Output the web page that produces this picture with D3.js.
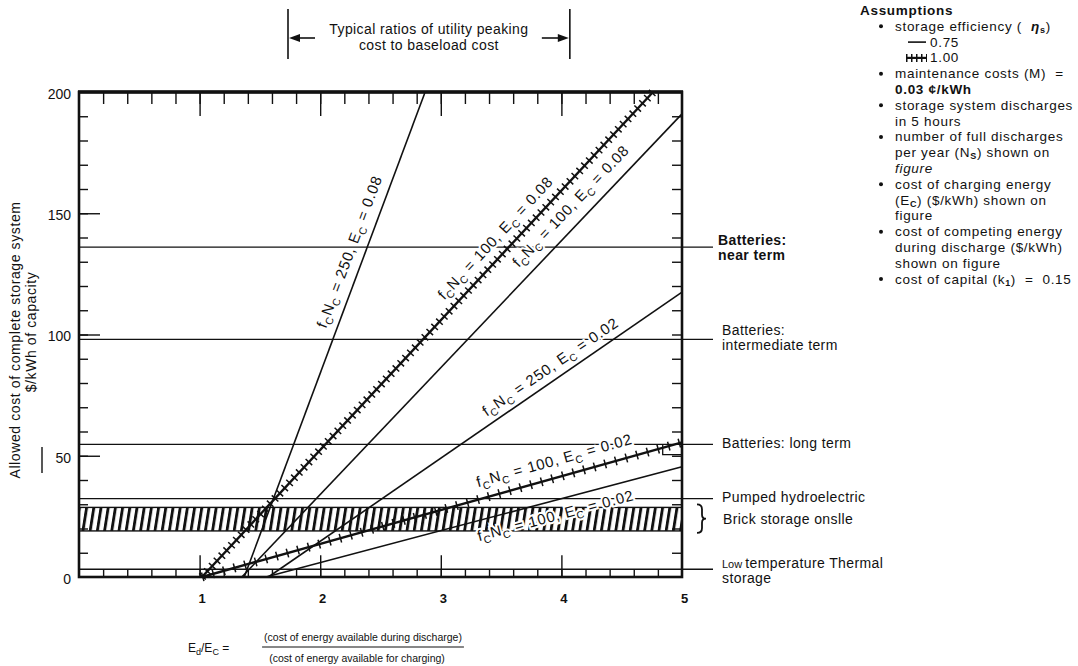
<!DOCTYPE html>
<html><head><meta charset="utf-8">
<script src="https://cdn.jsdelivr.net/npm/d3@7/dist/d3.min.js"></script>
<style>
html,body{margin:0;padding:0;background:#fff;}
svg{display:block;}
text{font-family:"Liberation Sans",Arial,Helvetica,sans-serif;fill:#111;white-space:pre;}
</style></head><body>
<svg id="chart" width="1078" height="666"></svg>
<script>
// ---------------- data ----------------
const xTickValues = [1, 2, 3, 4, 5];
const yTickValues = [0, 50, 100, 150, 200];

// storage-system value lines (allowed cost, $/kWh, vs Ed/Ec)
const seriesNc     = [250, 100, 100, 250, 100, 100];
const seriesEc     = [0.08, 0.08, 0.08, 0.02, 0.02, 0.02];
const seriesEff    = [0.75, 1.00, 0.75, 0.75, 1.00, 0.75];
const seriesStartX = [1.37, 1.02, 1.35, 1.57, 1.02, 1.55];
const seriesEndX   = [2.87, 4.76, 5.0, 5.0, 5.0, 5.0];
const seriesEndY   = [200, 200, 191, 117.5, 55.5, 45.5];

// technology cost levels ($/kWh)
const levelNames  = ["Batteries: near term", "Batteries: intermediate term", "Batteries: long term", "Pumped hydroelectric", "Low temperature Thermal storage"];
const levelValues = [136, 98, 54.7, 32.3, 3.2];
const brickBand   = [19, 28.7];      // Brick storage onsite range
const peakingRange = [1.733, 4.07];  // typical peaking/baseload ratios

// ---------------- layout ----------------
const svg = d3.select("#chart");
const x = d3.scaleLinear().domain([0, 5]).range([79, 682]);
const y = d3.scaleLinear().domain([0, 200]).range([577, 92]);
const X0 = x(0), X5 = x(5), Y0 = y(0), Y200 = y(200);
const INK = "#111";

const defs = svg.append("defs");
const pat = defs.append("pattern").attr("id", "hatch").attr("patternUnits", "userSpaceOnUse")
  .attr("width", 7.2).attr("height", 80).attr("patternTransform", "skewX(-9)");
pat.append("rect").attr("x", 0).attr("y", 0).attr("width", 2.9).attr("height", 80).attr("fill", INK);

// brick storage band
svg.append("rect")
  .attr("x", X0).attr("y", y(brickBand[1]))
  .attr("width", X5 - X0).attr("height", y(brickBand[0]) - y(brickBand[1]))
  .attr("fill", "url(#hatch)").attr("stroke", INK).attr("stroke-width", 1.4);

// level lines
svg.append("g").selectAll("line").data(levelValues).join("line")
  .attr("x1", X0).attr("x2", X5 + 31)
  .attr("y1", d => y(d)).attr("y2", d => y(d))
  .attr("stroke", INK).attr("stroke-width", 1.3);

// small box near long-term battery level
svg.append("path")
  .attr("d", `M${x(4.84)},${y(levelValues[2])}V${y(50.5)}H${X5}`)
  .attr("fill", "none").attr("stroke", INK).attr("stroke-width", 1.3);

function cleanAxis(g, w) {
  g.select(".domain").remove();
  g.selectAll(".tick line").attr("stroke", INK).attr("stroke-width", w || 1.4);
}

// brick strip on bottom
const fifths = d3.range(1, 25).map(k => k * 0.2);
svg.append("g").attr("transform", `translate(0,${Y0})`)
  .call(d3.axisTop(x).tickValues(fifths).tickSize(Y0 - y(levelValues[4])).tickFormat(""))
  .call(g => cleanAxis(g, 1.4));
svg.append("g").attr("transform", `translate(0,${Y0})`)
  .call(d3.axisTop(x).tickValues([1, 2, 3, 4]).tickSize(Y0 - y(9)).tickFormat(""))
  .call(g => cleanAxis(g, 1.4));

// top ticks
svg.append("g").attr("transform", `translate(0,${Y200})`)
  .call(d3.axisBottom(x).tickValues(fifths).tickSize(12).tickFormat(""))
  .call(g => cleanAxis(g, 1.4));
svg.append("g").attr("transform", `translate(0,${Y200})`)
  .call(d3.axisBottom(x).tickValues([1, 2, 3, 4]).tickSize(24).tickFormat(""))
  .call(g => cleanAxis(g, 1.4));

// left inner ticks
const tens = d3.range(10, 200, 10);
svg.append("g").attr("transform", `translate(${X0},0)`)
  .call(d3.axisRight(y).tickValues(tens).tickSize(9).tickFormat(""))
  .call(g => cleanAxis(g, 1.4));
svg.append("g").attr("transform", `translate(${X0},0)`)
  .call(d3.axisRight(y).tickValues([50, 100, 150]).tickSize(21).tickFormat(""))
  .call(g => cleanAxis(g, 1.4));
// right inner ticks
svg.append("g").attr("transform", `translate(${X5},0)`)
  .call(d3.axisLeft(y).tickValues(tens).tickSize(10).tickFormat(""))
  .call(g => cleanAxis(g, 1.4));

// y labels
svg.append("g").attr("transform", `translate(${X0 - 1},0)`)
  .call(d3.axisLeft(y).tickValues(yTickValues).tickSize(0).tickPadding(7).tickFormat(d3.format("d")))
  .call(g => { g.select(".domain").remove();
    g.selectAll("text").attr("font-size", 14).attr("fill", INK).attr("font-family", "Liberation Sans, Arial, sans-serif").attr("dy", "0.45em"); });
// x labels
svg.append("g").attr("transform", `translate(2,${Y0})`)
  .call(d3.axisBottom(x).tickValues(xTickValues).tickSize(0).tickPadding(17).tickFormat(d3.format("d")))
  .call(g => { g.select(".domain").remove();
    g.selectAll("text").attr("font-size", 13).attr("font-weight", "bold").attr("fill", INK).attr("font-family", "Liberation Sans, Arial, sans-serif"); });

// ---------------- value lines ----------------
const series = seriesNc.map((nc, i) => ({
  nc, ec: seriesEc[i], eff: seriesEff[i],
  pts: [[seriesStartX[i], 0], [seriesEndX[i], seriesEndY[i]]]
}));
const lineGen = d3.line().x(d => x(d[0])).y(d => y(d[1]));
const gl = svg.append("g");
series.forEach(s => {
  gl.append("path").attr("d", lineGen(s.pts)).attr("fill", "none")
    .attr("stroke", INK).attr("stroke-width", s.eff === 1 ? 2.4 : 1.6);
  if (s.eff === 1) {
    gl.append("path").attr("d", lineGen(s.pts)).attr("fill", "none")
      .attr("stroke", INK).attr("stroke-width", 9)
      .attr("stroke-dasharray", s.ec > 0.05 ? "1.5 5.6" : "1.5 9.5");
  }
});

// line labels (position along line = Ed/Ec value, offset perpendicular in px)
const labelAt  = [2.36, 3.55, 4.18, 3.97, 3.98, 3.92];
const labelOff = [-10, -11, -12, -8, -12, 20];
series.forEach((s, i) => {
  const [p0, p1] = s.pts;
  const x0 = x(p0[0]), y0 = y(p0[1]), x1 = x(p1[0]), y1 = y(p1[1]);
  const ang = Math.atan2(y1 - y0, x1 - x0) * 180 / Math.PI;
  const px = x(labelAt[i]);
  const py = y0 + (px - x0) * (y1 - y0) / (x1 - x0);
  const t = svg.append("text")
    .attr("transform", `translate(${px},${py}) rotate(${ang})`)
    .attr("text-anchor", "middle").attr("y", labelOff[i])
    .attr("font-size", 15).attr("letter-spacing", 0.8)
    .attr("stroke", "#fff").attr("stroke-width", 4).attr("paint-order", "stroke");
  t.append("tspan").text("f");
  t.append("tspan").attr("dy", 4).attr("font-size", 10.5).text("C");
  t.append("tspan").attr("dy", -4).text("N");
  t.append("tspan").attr("dy", 4).attr("font-size", 10.5).text("C");
  t.append("tspan").attr("dy", -4).text(` = ${s.nc}, E`);
  t.append("tspan").attr("dy", 4).attr("font-size", 10.5).text("C");
  t.append("tspan").attr("dy", -4).text(` = ${s.ec.toFixed(2)}`);
});

// frame
svg.append("rect").attr("x", X0).attr("y", Y200).attr("width", X5 - X0).attr("height", Y0 - Y200)
  .attr("fill", "none").attr("stroke", INK).attr("stroke-width", 2.6);
svg.append("line").attr("x1", X0 - 1).attr("x2", X5 + 1).attr("y1", Y200).attr("y2", Y200)
  .attr("stroke", INK).attr("stroke-width", 3.6);

// ---------------- right-hand level labels ----------------
const levelLabelLines = [["Batteries:", "near term"], ["Batteries:", "intermediate term"], ["Batteries: long term"], ["Pumped hydroelectric"], ["Low temperature Thermal", "storage"]];
const levelLabelDy = [[-2, 13], [-4, 11], [4], [3], [-1, 14]];
levelLabelLines.forEach((lines, i) => {
  lines.forEach((ln, j) => {
    const t = svg.append("text").attr("x", i === 0 ? 718 : 722).attr("y", y(levelValues[i]) + levelLabelDy[i][j])
      .attr("font-size", 14).attr("letter-spacing", 0.4)
      .attr("font-weight", i === 0 ? "bold" : "normal");
    if (i === 4 && j === 0) {
      t.append("tspan").attr("font-size", 11).attr("letter-spacing", 0).text("Low ");
      t.append("tspan").text("temperature Thermal");
    } else t.text(ln);
  });
});
// brick label + brace
const bTop = y(brickBand[1]) - 3, bBot = y(brickBand[0]) + 2, bMid = (bTop + bBot) / 2;
svg.append("path")
  .attr("d", `M697,${bTop} Q702,${bTop} 702,${bTop + 5} L702,${bMid - 4} Q702,${bMid} 706,${bMid} Q702,${bMid} 702,${bMid + 4} L702,${bBot - 5} Q702,${bBot} 697,${bBot}`)
  .attr("fill", "none").attr("stroke", INK).attr("stroke-width", 1.8);
svg.append("text").attr("x", 723).attr("y", bMid + 5).attr("font-size", 14).attr("letter-spacing", 0.4).text("Brick storage onslle");

// ---------------- top annotation ----------------
const ga = svg.append("g");
peakingRange.forEach(v => {
  ga.append("line").attr("x1", x(v)).attr("x2", x(v)).attr("y1", 9).attr("y2", 59).attr("stroke", INK).attr("stroke-width", 1.6);
});
const aY = 38, xa = x(peakingRange[0]), xb = x(peakingRange[1]);
ga.append("line").attr("x1", xa + 6).attr("x2", xa + 27).attr("y1", aY).attr("y2", aY).attr("stroke", INK).attr("stroke-width", 1.6);
ga.append("path").attr("d", `M${xa + 1},${aY} L${xa + 12},${aY - 4} L${xa + 12},${aY + 4} Z`).attr("fill", INK);
ga.append("line").attr("x1", xb - 28).attr("x2", xb - 6).attr("y1", aY).attr("y2", aY).attr("stroke", INK).attr("stroke-width", 1.6);
ga.append("path").attr("d", `M${xb - 1},${aY} L${xb - 12},${aY - 4} L${xb - 12},${aY + 4} Z`).attr("fill", INK);
const midA = (xa + xb) / 2;
ga.append("text").attr("x", midA).attr("y", 34).attr("text-anchor", "middle").attr("font-size", 14).attr("letter-spacing", 0.4).text("Typical ratios of utility peaking");
ga.append("text").attr("x", midA).attr("y", 50).attr("text-anchor", "middle").attr("font-size", 14).attr("letter-spacing", 0.4).text("cost to baseload cost");

// ---------------- axis titles ----------------
svg.append("text").attr("transform", "translate(20,340) rotate(-90)").attr("text-anchor", "middle")
  .attr("font-size", 14).attr("letter-spacing", 0.6).text("Allowed cost of complete storage system");
svg.append("text").attr("transform", "translate(36,332) rotate(-90)").attr("text-anchor", "middle")
  .attr("font-size", 14).attr("letter-spacing", 0.6).text("$/kWh of capacity");
svg.append("line").attr("x1", 42).attr("x2", 42).attr("y1", 447).attr("y2", 473).attr("stroke", INK).attr("stroke-width", 1.4);

const xt = svg.append("text").attr("x", 188).attr("y", 652).attr("font-size", 12);
xt.append("tspan").text("E");
xt.append("tspan").attr("dy", 3).attr("font-size", 9).text("d");
xt.append("tspan").attr("dy", -3).text("/E");
xt.append("tspan").attr("dy", 3).attr("font-size", 9).text("C");
xt.append("tspan").attr("dy", -3).text(" = ");
const fracC = 363;
const num = svg.append("text").attr("x", fracC).attr("y", 641).attr("text-anchor", "middle").attr("font-size", 10.5)
  .text("(cost of energy available during discharge)");
svg.append("text").attr("x", fracC - 6).attr("y", 662).attr("text-anchor", "middle").attr("font-size", 10.5)
  .text("(cost of energy available for charging)");
const nw = num.node().getComputedTextLength();
svg.append("line").attr("x1", fracC - nw / 2 - 2).attr("x2", fracC + nw / 2 + 2).attr("y1", 647).attr("y2", 647)
  .attr("stroke", INK).attr("stroke-width", 1.2);

// ---------------- assumptions legend ----------------
const legendRows = [
  { head: true, parts: [["Assumptions", "b"]] },
  { bullet: true, parts: [["storage efficiency (  "], ["η", "bi"], ["s", "sub"], [")"]] },
  { sample: "plain", parts: [["0.75"]] },
  { sample: "hatch", parts: [["1.00"]] },
  { bullet: true, parts: [["maintenance costs (M)  ="]] },
  { parts: [["0.03 ¢/kWh", "b"]] },
  { bullet: true, parts: [["storage system discharges"]] },
  { parts: [["in 5 hours"]] },
  { bullet: true, parts: [["number of full discharges"]] },
  { parts: [["per year (N"], ["S", "sub"], [") shown on"]] },
  { parts: [["figure", "i"]] },
  { bullet: true, parts: [["cost of charging energy"]] },
  { parts: [["(E"], ["C", "sub"], [") ($/kWh) shown on"]] },
  { parts: [["figure"]] },
  { bullet: true, parts: [["cost of competing energy"]] },
  { parts: [["during discharge ($/kWh)"]] },
  { parts: [["shown on figure"]] },
  { bullet: true, parts: [["cost of capital (k"], ["1", "sub"], [")  =  0.15"]] }
];
const LX = 895, LB = 15, LS = 15.8;
const gLeg = svg.append("g");
legendRows.forEach((r, i) => {
  const by = LB + i * LS;
  const tx = r.head ? 860 : (r.sample ? 930 : LX);
  if (r.bullet) gLeg.append("circle").attr("cx", 881).attr("cy", by - 4.5).attr("r", 2).attr("fill", INK);
  if (r.sample === "plain") gLeg.append("line").attr("x1", 908).attr("x2", 926).attr("y1", by - 4.5).attr("y2", by - 4.5).attr("stroke", INK).attr("stroke-width", 1.6);
  if (r.sample === "hatch") {
    gLeg.append("line").attr("x1", 906).attr("x2", 927).attr("y1", by - 4.5).attr("y2", by - 4.5).attr("stroke", INK).attr("stroke-width", 2.2);
    gLeg.append("line").attr("x1", 906).attr("x2", 927).attr("y1", by - 4.5).attr("y2", by - 4.5).attr("stroke", INK).attr("stroke-width", 8).attr("stroke-dasharray", "1.5 3.5");
  }
  const t = gLeg.append("text").attr("x", tx).attr("y", by).attr("font-size", 13.5).attr("letter-spacing", 0.7);
  let shifted = false;
  r.parts.forEach(([s, st]) => {
    const sp = t.append("tspan").text(s);
    if (st === "sub") { sp.attr("dy", 2).attr("font-size", 9); shifted = true; }
    else if (shifted) { sp.attr("dy", -2); shifted = false; }
    if (st && st.includes("b")) sp.attr("font-weight", "bold");
    if (st && st.includes("i")) sp.attr("font-style", "italic");
  });
});
</script>
</body></html>
